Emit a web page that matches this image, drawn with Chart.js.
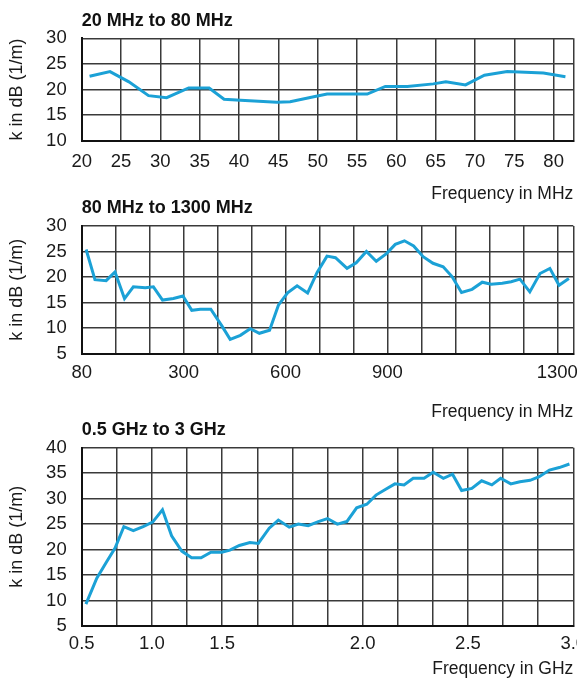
<!DOCTYPE html>
<html>
<head>
<meta charset="utf-8">
<script src="https://cdn.jsdelivr.net/npm/chart.js@4.4.1/dist/chart.umd.min.js"></script>
<style>
  html, body { margin: 0; padding: 0; background: #fff; }
  #wrap { position: relative; width: 577px; height: 682px; }
  #wrap canvas { position: absolute; left: 0; top: 0; }
</style>
</head>
<body>
<div id="wrap">
  <canvas id="lowChart" width="577" height="682"></canvas>
  <canvas id="midChart" width="577" height="682"></canvas>
  <canvas id="highChart" width="577" height="682"></canvas>
</div>
<script>
// 20 MHz to 80 MHz (x in MHz)
const lowFreq = [21.0, 23.6, 26.0, 28.5, 30.8, 33.6, 36.2, 38.1, 40.2, 44.8, 46.5, 49.5,
                 51.2, 56.3, 58.6, 61.4, 64.7, 66.3, 68.8, 71.2, 74.1, 78.7, 81.5];
const lowK = [22.6, 23.5, 21.5, 18.8, 18.4, 20.3, 20.3, 18.1, 17.9, 17.5, 17.6, 18.6,
              19.1, 19.1, 20.6, 20.6, 21.1, 21.5, 20.9, 22.8, 23.5, 23.2, 22.5];
const lowTicks = [20, 25, 30, 35, 40, 45, 50, 55, 60, 65, 70, 75, 80];

// 80 MHz to 1300 MHz (x in grid divisions of the printed axis)
const midPos = [0.13, 0.39, 0.72, 0.98, 1.26, 1.52, 1.87, 2.11, 2.38, 2.70, 2.98, 3.24, 3.49,
                3.80, 4.13, 4.37, 4.67, 4.96, 5.23, 5.53, 5.79, 6.06, 6.34, 6.65, 6.93, 7.22,
                7.47, 7.81, 8.08, 8.38, 8.67, 8.97, 9.23, 9.50, 9.77, 10.05, 10.34, 10.64,
                10.90, 11.18, 11.49, 11.79, 12.05, 12.38, 12.64, 12.90, 13.19, 13.49, 13.78,
                14.05, 14.34];
const midK = [25.4, 19.5, 19.3, 21.0, 15.8, 18.1, 17.9, 18.1, 15.5, 15.8, 16.3, 13.5, 13.7,
              13.7, 10.4, 7.8, 8.6, 9.9, 9.0, 9.6, 14.5, 16.9, 18.3, 16.9, 20.9, 24.1,
              23.8, 21.7, 22.8, 25.0, 23.1, 24.6, 26.4, 27.1, 26.1, 24.0, 22.7, 22.0,
              20.1, 17.0, 17.6, 19.0, 18.6, 18.8, 19.1, 19.6, 17.1, 20.7, 21.7,
              18.4, 19.7];
const midTickLabels = ['80', '', '', '300', '', '', '600', '', '', '900', '', '', '', '', '1300'];

// 0.5 GHz to 3 GHz (x in grid divisions of the printed axis)
const highPos = [0.12, 0.43, 0.71, 0.95, 1.20, 1.47, 1.75, 2.02, 2.30, 2.56, 2.85, 3.13, 3.40,
                 3.68, 3.99, 4.22, 4.49, 4.79, 5.03, 5.34, 5.60, 5.91, 6.17, 6.45, 6.74, 7.00,
                 7.28, 7.55, 7.83, 8.12, 8.38, 8.67, 8.92, 9.18, 9.44, 9.75, 10.01, 10.30,
                 10.56, 10.82, 11.11, 11.39, 11.68, 11.93, 12.22, 12.48, 12.77, 13.03, 13.32,
                 13.60, 13.89];
const highK = [9.3, 14.4, 17.6, 20.3, 24.5, 23.7, 24.5, 25.4, 27.8, 22.7, 19.7, 18.4, 18.4,
               19.5, 19.5, 19.9, 20.8, 21.4, 21.2, 24.2, 25.8, 24.4, 25.0, 24.7, 25.5, 26.1,
               25.0, 25.5, 28.2, 28.9, 30.7, 31.9, 32.9, 32.7, 34.0, 34.0, 35.2, 34.0,
               34.8, 31.6, 32.0, 33.5, 32.7, 34.0, 32.9, 33.3, 33.6, 34.3, 35.6,
               36.1, 36.8];
const highTickLabels = ['0.5', '', '1.0', '', '1.5', '', '', '', '2.0', '', '', '2.5', '', '', '3.0'];

Chart.defaults.font.family = "'Liberation Sans', Arial, sans-serif";
Chart.defaults.color = '#1a1a1a';

const PAGE_H = 682;
const AREA_LEFT = 81.7;
const AREA_RIGHT = 573.3;
const TITLE_SIZE = 18;
const TICK_SIZE = 18.5;
const AXIS_TITLE_SIZE = 17.5;

function range(a, b, step) {
    const out = [];
    for (let v = a; v <= b + 1e-9; v += step) out.push(+v.toFixed(4));
    return out;
}

function buildChart(id, p) {
    const half = (size) => size * 1.2 / 2;
    const xAxisBottom = Math.min(PAGE_H, p.xTitleCenter + half(AXIS_TITLE_SIZE));
    const points = p.xs.map((x, i) => ({ x: x, y: p.ys[i] }));
    // grid positions: every step plus the right edge of the frame
    const xGrid = range(p.xMin, p.xMax, p.xStep);
    if (xGrid[xGrid.length - 1] !== p.xMax) xGrid.push(p.xMax);
    return new Chart(document.getElementById(id), {
        type: 'line',
        data: {
            datasets: [{
                data: points,
                borderColor: '#1ba1d6',
                borderWidth: 3,
                pointRadius: 0,
                tension: 0
            }]
        },
        options: {
            responsive: false,
            animation: false,
            events: [],
            layout: {
                padding: { top: 0, left: 0, right: 577 - AREA_RIGHT, bottom: PAGE_H - xAxisBottom }
            },
            plugins: {
                legend: { display: false },
                tooltip: { enabled: false },
                title: {
                    display: true,
                    text: p.title,
                    align: 'start',
                    fullSize: false,
                    color: '#111',
                    font: { size: TITLE_SIZE, weight: 'bold' },
                    padding: {
                        top: p.titleCenter - half(TITLE_SIZE),
                        bottom: p.areaTop - p.titleCenter - half(TITLE_SIZE)
                    }
                }
            },
            scales: {
                x: {
                    type: 'linear',
                    min: p.xMin,
                    max: p.xMax,
                    afterFit: (axis) => {
                        axis.height = xAxisBottom - p.areaBottom;
                        // let the last label run past the frame, as in the print
                        axis.paddingLeft = 0;
                        axis.paddingRight = 0;
                    },
                    afterBuildTicks: (axis) => { axis.ticks = xGrid.map(v => ({ value: v })); },
                    ticks: {
                        autoSkip: false,
                        maxRotation: 0,
                        padding: p.tickCenter - p.areaBottom - half(TICK_SIZE),
                        font: { size: TICK_SIZE },
                        callback: p.tickText
                    },
                    grid: { color: '#3a3a3a', lineWidth: 1.5, drawTicks: false },
                    border: { color: '#111', width: 2 },
                    title: {
                        display: true,
                        text: p.xTitle,
                        align: 'end',
                        font: { size: AXIS_TITLE_SIZE },
                        padding: { top: 0, bottom: 0 }
                    }
                },
                y: {
                    min: p.yMin,
                    max: p.yMax,
                    afterFit: (axis) => { axis.width = AREA_LEFT; },
                    ticks: { stepSize: 5, autoSkip: false, padding: 15, font: { size: TICK_SIZE } },
                    grid: { color: '#3a3a3a', lineWidth: 1.5, drawTicks: false },
                    border: { color: '#111', width: 2 },
                    title: {
                        display: true,
                        text: 'k in dB (1/m)',
                        font: { size: 18 },
                        padding: { top: 6, bottom: 0 }
                    }
                }
            }
        }
    });
}

buildChart('lowChart', {
    title: '20 MHz to 80 MHz',
    xs: lowFreq, ys: lowK,
    xMin: 20, xMax: 82.5, xStep: 5,
    yMin: 10, yMax: 30,
    tickText: (v) => lowTicks.includes(v) ? String(v) : '',
    xTitle: 'Frequency in MHz',
    titleCenter: 21.2, areaTop: 38.3, areaBottom: 140.7, tickCenter: 162, xTitleCenter: 193.7
});

buildChart('midChart', {
    title: '80 MHz to 1300 MHz',
    xs: midPos, ys: midK,
    xMin: 0, xMax: 14.47, xStep: 1,
    yMin: 5, yMax: 30,
    tickText: (v) => Number.isInteger(v) ? (midTickLabels[v] || '') : '',
    xTitle: 'Frequency in MHz',
    titleCenter: 208.3, areaTop: 226, areaBottom: 353.7, tickCenter: 373.3, xTitleCenter: 412.5
});

buildChart('highChart', {
    title: '0.5 GHz to 3 GHz',
    xs: highPos, ys: highK,
    xMin: 0, xMax: 14, xStep: 1,
    yMin: 5, yMax: 40,
    tickText: (v) => Number.isInteger(v) ? (highTickLabels[v] || '') : '',
    xTitle: 'Frequency in GHz',
    titleCenter: 429.7, areaTop: 447.7, areaBottom: 626, tickCenter: 644.2, xTitleCenter: 669.5
});
</script>
</body>
</html>
